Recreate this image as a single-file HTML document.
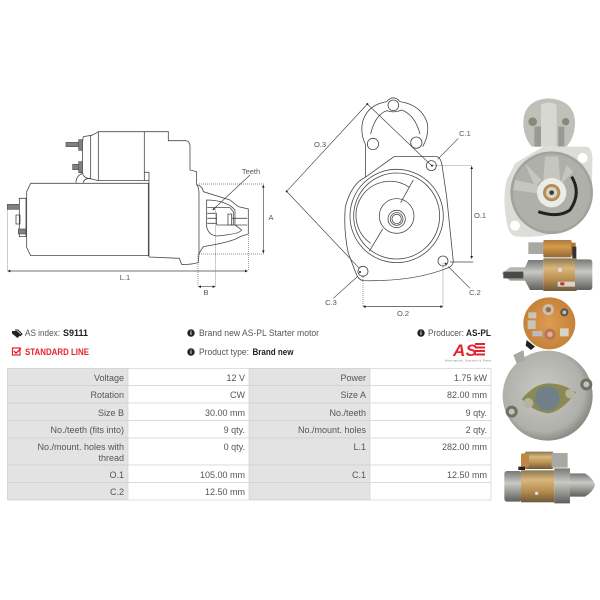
<!DOCTYPE html>
<html lang="en"><head><meta charset="utf-8"><title>AS-PL S9111 Starter motor</title>
<style>html,body{margin:0;padding:0;background:#fff}svg{display:block}text{font-family:"Liberation Sans",sans-serif}</style></head>
<body>
<svg width="600" height="600" viewBox="0 0 600 600" xmlns="http://www.w3.org/2000/svg">
<defs>
<linearGradient id="gold" x1="0" y1="0" x2="0" y2="1"><stop offset="0" stop-color="#8a7750"/><stop offset=".3" stop-color="#d8b77c"/><stop offset=".65" stop-color="#b88d50"/><stop offset="1" stop-color="#6d5a38"/></linearGradient>
<linearGradient id="steel" x1="0" y1="0" x2="0" y2="1"><stop offset="0" stop-color="#777"/><stop offset=".4" stop-color="#c9c9c4"/><stop offset="1" stop-color="#5f5f5c"/></linearGradient>
<linearGradient id="orange" x1="0" y1="0" x2="0" y2="1"><stop offset="0" stop-color="#a87a3e"/><stop offset=".4" stop-color="#d99a4a"/><stop offset="1" stop-color="#8c6a36"/></linearGradient>
<radialGradient id="disc" cx=".45" cy=".45" r=".6"><stop offset="0" stop-color="#cbcbc6"/><stop offset=".75" stop-color="#b0b0ab"/><stop offset="1" stop-color="#7d7d78"/></radialGradient>
<radialGradient id="amber" cx=".5" cy=".5" r=".6"><stop offset="0" stop-color="#dd9c50"/><stop offset="1" stop-color="#c07e35"/></radialGradient>
</defs>

<!-- left drawing -->
<g transform="translate(0,110) scale(.3333)" fill="none" stroke="#484848" stroke-width="2.4">
<path d="M92,220H445V437H92L80,412V245Z"/>
<path d="M295,65H433V212H295Z"/>
<path d="M295,65Q288,70 275,76L250,80Q246,90 248,190Q250,205 275,207L295,212"/>
<path d="M272,76V207"/>
<path d="M433,65H505V92H558Q570,95 570,108V180L590,185V224Q597,232 597,250V430L595,458Q570,465 545,463L538,445L447,441V187H433"/>
<path d="M590,224Q608,228 610,245L690,270L715,290L745,297V372L720,380Q700,395 610,410Q600,425 597,432"/>
<path d="M620,270Q665,270 695,290L705,300V345L725,360Q720,372 650,378Q625,375 620,350Z"/>
<path d="M622,293H690L700,305V345H650"/>
<path d="M622,310H650M622,325H650M622,340H650M650,310V345M684,312H695V345H684ZM695,325H742M695,345H742"/>
<path d="M228,218Q228,198 247,190M250,218Q252,205 272,205M433,212H447"/>
<path d="M58,265H78V380H58ZM48,315H60V342H48Z"/>
<g fill="#808080" stroke="#555" stroke-width="2"><rect x="198" y="97" width="38" height="13"/><rect x="236" y="89" width="12" height="32"/><rect x="218" y="163" width="20" height="16"/><rect x="236" y="155" width="12" height="33"/><rect x="22" y="283" width="36" height="15"/><rect x="55" y="357" width="22" height="15"/></g>
<g stroke="#666" stroke-width="2" stroke-dasharray="3 3"><path d="M597,222H792M597,432H792M22,298V482M745,375V482M594,432V530M647,290V530"/></g>
<g stroke="#444" stroke-width="2"><path d="M790,226V428M26,483H740M597,530H644M750,195L640,298"/></g>
<g fill="#222" stroke="none"><path d="M790,224l-4,9h8ZM790,430l-4,-9h8ZM22,483l9,-4v8ZM744,483l-9,-4v8ZM594,530l9,-4v8ZM647,530l-9,-4v8ZM637,301l8,-3l-4,-5Z"/></g>
</g>
<g fill="#555" font-size="7.5" text-anchor="middle">
<text x="251" y="174">Teeth</text><text x="271" y="220">A</text><text x="125" y="280">L.1</text><text x="206" y="295">B</text>
</g>

<!-- right drawing -->
<g transform="translate(280,90) scale(.3333)" fill="none" stroke="#484848" stroke-width="2.4">
<path d="M256,262L257,165Q240,130 248,95Q262,45 320,35Q340,12 360,35Q425,45 442,100Q448,135 428,170"/>
<path d="M272,132Q285,75 320,62Q340,70 365,60Q405,75 420,132"/>
<circle cx="340" cy="46" r="16"/><circle cx="279" cy="162" r="17"/><circle cx="409" cy="158" r="17"/>
<path d="M256,262L342,200H470Q482,202 486,225L500,320L520,515Q518,530 500,535Q400,575 250,572Q235,570 228,550L205,490Q190,420 196,350Q215,280 256,262Z"/>
<circle cx="454" cy="227" r="15"/><circle cx="489" cy="513" r="15"/><circle cx="249" cy="544" r="15"/>
<circle cx="350" cy="378" r="140"/><circle cx="350" cy="378" r="129"/>
<path d="M388,292A100,100 0 1 0 272,460"/>
<path d="M400,270L362,338M308,417L268,484"/>
<circle cx="350" cy="378" r="52"/><circle cx="350" cy="387" r="26"/><circle cx="350" cy="387" r="19"/><circle cx="350" cy="387" r="14"/>
<g stroke="#444" stroke-width="2"><path d="M262,42L20,304L238,535M262,42L456,228M535,145L473,208M575,232V503M510,516H580M252,650H486M570,595L505,530M160,625L232,560"/></g>
<g stroke="#666" stroke-width="2" stroke-dasharray="3 3"><path d="M458,227H575M249,555V650M489,518V650"/></g>
<g fill="#222" stroke="none"><path d="M575,228l-4,9h8ZM575,507l-4,-9h8ZM248,650l9,-4v8ZM490,650l-9,-4v8Z"/><circle cx="262" cy="42" r="3"/><circle cx="20" cy="304" r="3"/><circle cx="456" cy="227" r="3"/><circle cx="497" cy="521" r="3"/><circle cx="240" cy="546" r="3"/></g>
</g>
<g fill="#555" font-size="7.5" text-anchor="middle">
<text x="320" y="147">O.3</text><text x="465" y="136">C.1</text><text x="480" y="218">O.1</text><text x="475" y="295">C.2</text><text x="403" y="316">O.2</text><text x="331" y="305">C.3</text>
</g>

<!-- photo 1: nose end -->
<g transform="translate(495,90) scale(.3333)">
<path d="M85,100Q85,30 160,25Q240,30 240,100Q240,140 215,170H110Q85,140 85,100Z" fill="#c0c0bb"/>
<path d="M138,45Q160,30 185,45V170H138Z" fill="#d8d8d3"/>
<path d="M118,110H138V170H118ZM190,110H208V170H190Z" fill="#9a9a95"/>
<circle cx="113" cy="95" r="13" fill="#8b8878"/><circle cx="212" cy="95" r="11" fill="#8b8878"/>
<path d="M60,220L145,170H275Q295,175 292,220L290,330L240,410Q160,445 70,440Q45,440 38,410Q20,330 35,270Z" fill="#dcdcd8"/>
<circle cx="263" cy="204" r="15" fill="#fff"/><circle cx="60" cy="407" r="15" fill="#fff"/>
<circle cx="170" cy="308" r="124" fill="#a3a39e"/>
<circle cx="170" cy="308" r="116" fill="#b0b0aa"/>
<path d="M230,260Q260,310 225,360Q190,385 130,365" fill="none" stroke="#222" stroke-width="9"/>
<path d="M150,200H190L195,270H145ZM60,270L130,285V310L55,300ZM90,220L140,270L120,290ZM215,225L235,245L195,285Z" fill="#c6c6c0"/>
<circle cx="170" cy="308" r="44" fill="#ecebe5"/><circle cx="170" cy="308" r="26" fill="#b48e58"/><circle cx="170" cy="308" r="17" fill="#d8d3c5"/><circle cx="170" cy="308" r="7" fill="#3b3b3b"/>
</g>
<!-- photo 2: side -->
<g transform="translate(495,90) scale(.3333)">
<rect x="100" y="457" width="50" height="35" fill="#a9a9a3"/>
<rect x="145" y="450" width="85" height="52" rx="5" fill="url(#orange)"/>
<rect x="228" y="458" width="14" height="38" fill="#b27536"/>
<rect x="232" y="470" width="12" height="35" fill="#333"/>
<path d="M20,550L45,532H90L100,510H145V600H105L90,572H45Z" fill="url(#steel)"/>
<path d="M25,545H85V565H25Z" fill="#4a4a48"/>
<rect x="145" y="505" width="100" height="98" fill="url(#gold)"/>
<rect x="240" y="508" width="52" height="92" rx="8" fill="url(#steel)"/>
<rect x="188" y="575" width="52" height="15" fill="#d8d4cc"/><rect x="196" y="577" width="12" height="9" fill="#b33"/>
<circle cx="195" cy="540" r="6" fill="#ddd"/>
</g>
<!-- photo 3: back -->
<g transform="translate(495,295) scale(.3333)">
<circle cx="163" cy="85" r="78" fill="url(#amber)"/>
<circle cx="160" cy="44" r="17" fill="#c7c0b0"/><circle cx="160" cy="44" r="8" fill="#a06a45"/>
<circle cx="208" cy="52" r="12" fill="#55534a"/><circle cx="208" cy="52" r="6" fill="#bbb"/>
<rect x="100" y="52" width="24" height="18" fill="#c9c5b8"/><rect x="98" y="76" width="24" height="26" fill="#c9c5b8"/>
<rect x="112" y="108" width="30" height="16" fill="#bbb"/><circle cx="165" cy="118" r="17" fill="#b9765a"/><circle cx="165" cy="118" r="8" fill="#e0b095"/>
<rect x="195" y="100" width="26" height="24" fill="#d8d4c8"/>
<path d="M95,135L120,155L108,165L92,152Z" fill="#222"/>
<circle cx="158" cy="302" r="135" fill="url(#disc)"/>
<path d="M55,180L85,165L90,195L65,205Z" fill="#a8a8a2"/>
<path d="M80,312Q120,265 160,265Q205,265 243,292Q200,350 160,355Q115,350 80,312Z" fill="#8b8a55"/>
<circle cx="157" cy="310" r="37" fill="#6f8088"/><circle cx="100" cy="324" r="15" fill="#b6b4a0"/><circle cx="225" cy="296" r="14" fill="#b6b4a0"/>
<circle cx="274" cy="268" r="18" fill="#6f6f68"/><circle cx="274" cy="268" r="9" fill="#c5c2b3"/>
<circle cx="50" cy="350" r="18" fill="#6f6f68"/><circle cx="50" cy="350" r="9" fill="#c5c2b3"/>
</g>
<!-- photo 4: side -->
<g transform="translate(495,295) scale(.3333)">
<rect x="90" y="470" width="85" height="52" rx="4" fill="url(#gold)"/>
<rect x="78" y="475" width="24" height="42" rx="5" fill="#c18544"/>
<rect x="170" y="474" width="48" height="44" fill="#a9a9a3"/>
<rect x="70" y="515" width="20" height="10" fill="#222"/>
<rect x="28" y="528" width="52" height="92" rx="8" fill="url(#steel)"/>
<rect x="78" y="526" width="100" height="96" fill="url(#gold)"/>
<path d="M178,520H225V625H178Z" fill="url(#steel)"/>
<path d="M225,535H270Q295,550 300,570Q295,590 270,605H225Z" fill="url(#steel)"/>
<circle cx="125" cy="595" r="5" fill="#ddd"/>
</g>

<!-- info rows -->
<path d="M12,331h5l4,3.500l-3.500,3.500l-5.500,-4.500Z" fill="#222"/><path d="M15,330h3l4,4l-2,2" fill="none" stroke="#222"/>
<g font-size="9" fill="#555">
<text x="25" y="336" textLength="35" lengthAdjust="spacingAndGlyphs">AS index:</text><text x="63" y="336" font-weight="bold" fill="#222" textLength="25" lengthAdjust="spacingAndGlyphs">S9111</text>
<text x="199" y="336" textLength="120" lengthAdjust="spacingAndGlyphs">Brand new AS-PL Starter motor</text>
<text x="199" y="355" textLength="50" lengthAdjust="spacingAndGlyphs">Product type:</text><text x="252.500" y="355" font-weight="bold" fill="#222" textLength="41" lengthAdjust="spacingAndGlyphs">Brand new</text>
<text x="428" y="336" textLength="36" lengthAdjust="spacingAndGlyphs">Producer:</text><text x="466" y="336" font-weight="bold" fill="#222" textLength="25" lengthAdjust="spacingAndGlyphs">AS-PL</text>
</g>
<g fill="#222"><circle cx="191" cy="333" r="3.700"/><circle cx="191" cy="352" r="3.700"/><circle cx="421" cy="333" r="3.700"/></g>
<g fill="#fff" font-size="6" font-weight="bold" text-anchor="middle"><text x="191" y="335.200">i</text><text x="191" y="354.200">i</text><text x="421" y="335.200">i</text></g>
<rect x="12.500" y="348" width="7.500" height="7" fill="none" stroke="#e8212e" stroke-width="1.200"/>
<path d="M14,351l2,2.200l5,-5" fill="none" stroke="#e8212e" stroke-width="1.400"/>
<text x="25" y="355" font-size="9" font-weight="bold" fill="#e8212e" textLength="64" lengthAdjust="spacingAndGlyphs">STANDARD LINE</text>
<text x="453" y="356" font-size="17" font-weight="bold" font-style="italic" fill="#e8212e" textLength="24">AS</text>
<g fill="#e8212e"><rect x="475" y="343" width="10" height="2"/><rect x="475" y="346.500" width="10" height="2"/><rect x="475" y="350" width="10" height="2"/><rect x="475" y="353.500" width="10" height="2"/></g>
<text x="445" y="361.500" font-size="3" fill="#777" textLength="46">Alternators, Starters &amp; Parts</text>

<!-- table -->
<g fill="#e3e3e3" stroke="#cfcfcf" stroke-width=".8">
<rect x="7.500" y="368.500" width="120.500" height="17"/><rect x="7.500" y="385.500" width="120.500" height="17.500"/><rect x="7.500" y="403" width="120.500" height="17.500"/><rect x="7.500" y="420.500" width="120.500" height="17.500"/><rect x="7.500" y="438" width="120.500" height="27"/><rect x="7.500" y="465" width="120.500" height="17.500"/><rect x="7.500" y="482.500" width="120.500" height="17.500"/>
<rect x="249" y="368.500" width="121" height="17"/><rect x="249" y="385.500" width="121" height="17.500"/><rect x="249" y="403" width="121" height="17.500"/><rect x="249" y="420.500" width="121" height="17.500"/><rect x="249" y="438" width="121" height="27"/><rect x="249" y="465" width="121" height="17.500"/><rect x="249" y="482.500" width="121" height="17.500"/>
</g>
<g fill="#fff" stroke="#d8d8d8" stroke-width=".8">
<rect x="128" y="368.500" width="121" height="17"/><rect x="128" y="385.500" width="121" height="17.500"/><rect x="128" y="403" width="121" height="17.500"/><rect x="128" y="420.500" width="121" height="17.500"/><rect x="128" y="438" width="121" height="27"/><rect x="128" y="465" width="121" height="17.500"/><rect x="128" y="482.500" width="121" height="17.500"/>
<rect x="370" y="368.500" width="121" height="17"/><rect x="370" y="385.500" width="121" height="17.500"/><rect x="370" y="403" width="121" height="17.500"/><rect x="370" y="420.500" width="121" height="17.500"/><rect x="370" y="438" width="121" height="27"/><rect x="370" y="465" width="121" height="17.500"/><rect x="370" y="482.500" width="121" height="17.500"/>
</g>
<g font-size="9" fill="#555" text-anchor="end">
<text x="124" y="381">Voltage</text><text x="245" y="381">12 V</text><text x="366" y="381">Power</text><text x="487" y="381">1.75 kW</text>
<text x="124" y="398">Rotation</text><text x="245" y="398">CW</text><text x="366" y="398">Size A</text><text x="487" y="398">82.00 mm</text>
<text x="124" y="416">Size B</text><text x="245" y="416">30.00 mm</text><text x="366" y="416">No./teeth</text><text x="487" y="416">9 qty.</text>
<text x="124" y="433">No./teeth (fits into)</text><text x="245" y="433">9 qty.</text><text x="366" y="433">No./mount. holes</text><text x="487" y="433">2 qty.</text>
<text x="124" y="450">No./mount. holes with</text><text x="124" y="461">thread</text><text x="245" y="450">0 qty.</text><text x="366" y="450">L.1</text><text x="487" y="450">282.00 mm</text>
<text x="124" y="478">O.1</text><text x="245" y="478">105.00 mm</text><text x="366" y="478">C.1</text><text x="487" y="478">12.50 mm</text>
<text x="124" y="495">C.2</text><text x="245" y="495">12.50 mm</text>
</g>
</svg>
</body></html>
